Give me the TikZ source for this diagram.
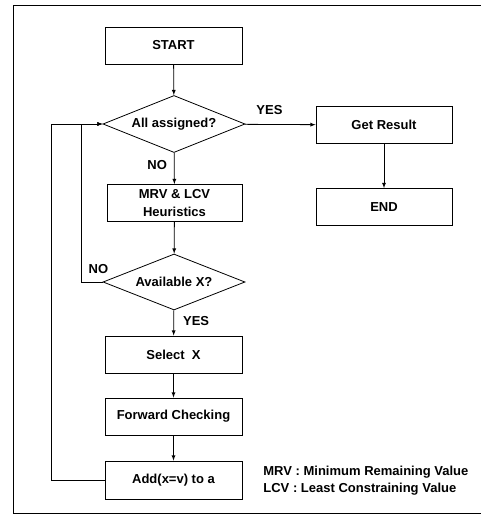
\documentclass[tikz,border=0pt]{standalone}
\usepackage{fontspec}
\setmainfont{Liberation Sans}
\usetikzlibrary{shapes.geometric}

\begin{document}
\begin{tikzpicture}[x=1pt,y=-1pt,>=latex,line width=0.8pt,
  font=\fontsize{13}{15}\selectfont\bfseries,
  box/.style={draw,rectangle,minimum width=137pt,minimum height=37pt,inner sep=0pt,align=center},
  decision/.style={draw,diamond,aspect=2.5,minimum width=142pt,minimum height=57pt,inner sep=0pt},
  lbl/.style={inner sep=1pt}]
\useasboundingbox (0,0) rectangle (480,516);
\draw[line width=0.6pt] (484,5) -- (13,5) -- (13,513) -- (484,513);

\node[box] (start) at (173.5,45.5) {START};
\node[decision] (assigned) at (174,124) {All assigned?};
\node[box,minimum width=136pt] (result) at (384,125) {Get Result};
\node[box,minimum width=136pt] (end) at (384,207) {END};
\node[box,minimum width=135pt] (mrv) at (174.5,203) {MRV \& LCV\\[3pt]Heuristics};
\node[decision,minimum height=56pt] (avail) at (174,282) {Available X?};
\node[box] (select) at (173.5,354.5) {Select~~X};
\node[box] (forward) at (173.5,416.5) {Forward Checking};
\node[box,minimum height=38pt] (add) at (173.5,480) {Add(x=v) to a};

\draw[->] (start) -- (assigned);
\draw[->] (assigned) -- node[lbl,pos=0.35,above=8pt] {YES} (result);
\draw[->] (assigned) -- node[lbl,pos=0.4,left=6pt] {NO} (mrv);
\draw[->] (result) -- (end);
\draw[->] (mrv) -- (avail);
\draw[->] (avail) -- node[lbl,pos=0.44,right=8pt] {YES} (select);
\draw[->] (select) -- (forward);
\draw[->] (forward) -- (add);
\draw[->] (avail.west) -- node[lbl,pos=0.2,above=7pt] {NO} ++(-21,0) |- (assigned.west);
\draw[->] (add.west) -- ++(-53,0) |- (assigned.west);

\node[anchor=west,inner sep=0pt] (legmrv) at (263,472) {MRV : Minimum Remaining Value};
\node[anchor=west,inner sep=0pt] (leglcv) at (263,489) {LCV : Least Constraining Value};
\end{tikzpicture}
\end{document}
